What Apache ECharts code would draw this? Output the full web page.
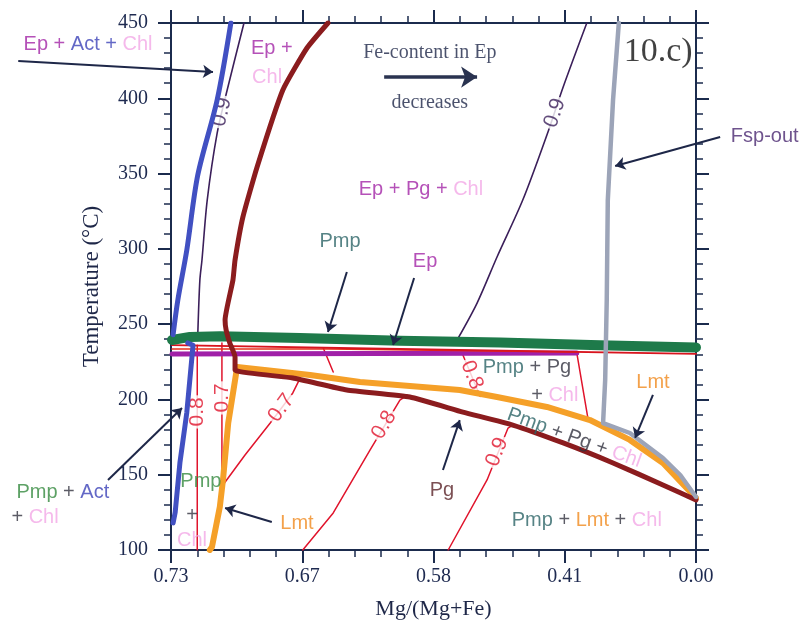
<!DOCTYPE html>
<html><head><meta charset="utf-8">
<script src="https://cdn.jsdelivr.net/npm/echarts@6/dist/echarts.min.js"></script>
<style>html,body{margin:0;padding:0;background:#fff}#c{width:810px;height:631px}</style>
</head><body><div id="c"></div>
<script>
// ---- data (x: position along the Mg/(Mg+Fe) axis in % of span, 0 = 0.73, 100 = 0.00; y: °C)
const xTickLabels = ['0.73', '0.67', '0.58', '0.41', '0.00'];
const actUpper   = [[11.4,450],[8.8,399],[5.1,349],[3.0,299],[1.3,266],[0.4,243]];
const actLower   = [[3.2,237.5],[4.2,236],[3.0,191],[1.7,158],[0.8,125],[0.4,118]];
const ep09Left   = [[13.9,450],[10.7,405.5],[8.8,377],[6.9,332.4],[5.9,292.6],[5.5,279.3],[5.1,242.8]];
const ep09Right  = [[79.2,450],[74.7,407.5],[71.6,375.6],[67.0,332.4],[62.1,294.6],[58.3,264.0],[54.5,239.5]];
const pmpLine    = [[0.2,239.5],[3.6,241.5],[9.3,242],[24.6,240.8],[43.6,239],[62.7,237.8],[81.7,236],[100,234.5]];
const epLine     = [[0.2,230.2],[77.3,230.8]];
const redUpper   = [[0.2,236.1],[43.6,233.5],[100,230.2]];
const redMid     = [[0.2,233.5],[30.0,233.5],[77.3,231.5]];
const pgBoundary = [[29.9,450],[25.9,433.4],[21.3,405.5],[16.4,354.4],[13.7,321.2],[12.2,292.6],[11.8,279.3],[10.3,252.8],[10.5,246.1],[11.2,237.5],[12.2,228.2],[12.2,219.6],
                    [23.2,214.2],[33.5,206.3],[45.5,201.6],[55.6,191.6],[65.1,183.0],[74.7,171.1],[84.2,157.8],[93.7,143.2],[100,133.2]];
const lmtBoundary = [[7.4,100],[7.8,102],[9.3,128.6],[9.9,146.5],[10.9,184.3],[11.6,199.6],[12.6,221.5],
                    [26.5,216.2],[36.0,211.6],[55.0,206.3],[62.1,201.6],[71.6,195.0],[79.8,186.3],[87.4,173.1],[93.7,157.8],[100,134.5]];
const fspOut     = [[85.3,450],[84.2,398.9],[83.2,332.4],[83.0,266.0],[82.7,212.9],[82.3,184.3],[87.4,177.7],[93.7,161.1],[97.0,149.8],[100,135.2]];
const c08Vert    = [[5.0,236],[5.0,100]];
const c07Vert    = [[9.7,237.5],[9.7,143.2]];
const c07Diag    = [[9.9,143.2],[14.1,163.1],[18.9,184.3],[23.2,204.3],[24.6,214.2]];
const c08Diag    = [[25.1,100],[30.9,124.6],[37.9,166.4],[43.6,199.6],[45.0,202.9]];
const c09Low     = [[52.8,100],[60.2,146.5],[64.2,181.0],[65.1,183.0]];
const c08Up      = [[55.6,229.5],[58.9,202.0]];
const cShort     = [[29.0,234.2],[30.9,218.2]];
const cRight     = [[77.3,230.8],[79.4,187.7]];
const arrows = [
  [[-29.1,424.8],[8.0,417.5]],
  [[104.6,374.3],[84.6,355.0]],
  [[33.5,284.6],[29.9,244.8]],
  [[46.3,280.6],[42.3,236.1]],
  [[51.8,153.1],[55.0,186.3]],
  [[19.2,118.6],[10.3,127.9]],
  [[91.8,203.0],[88.4,174.4]],
  [[-12.0,146.5],[2.1,194.3]]
];
const feArrow = [[[40.6,414.1],[58.3,414.1]]];

// ---- annotations (text, anchor in data coords)
const labels = [
  {t:'{ep|Ep + }{act|Act + }{chl|Chl}', at:[-15.8,435.4]},
  {t:'{ep|Ep +}', at:[19.2,433.4]},
  {t:'{chl|Chl}', at:[18.3,413.5]},
  {t:'{ep|Ep + Pg + }{chl|Chl}', at:[47.6,339.1]},
  {t:'{pmp|Pmp}', at:[32.2,305.2]},
  {t:'{ep|Ep}', at:[48.4,291.9]},
  {t:'{pmp|Pmp}{k| + Pg}', at:[67.8,220.9]},
  {t:'{k|+ }{chl|Chl}', at:[73.1,202.9]},
  {t:'{pmp|Pmp}{k| + Pg + }{chl|Chl}', at:[76.8,174.4], rot:-20},
  {t:'{lmt|Lmt}', at:[91.8,211.1]},
  {t:'{pg|Pg}', at:[51.6,139.8]},
  {t:'{pmp|Pmp}{k| + }{lmt|Lmt}{k| + }{chl|Chl}', at:[79.2,119.9]},
  {t:'{lmt|Lmt}', at:[24.0,117.9]},
  {t:'{pmpg|Pmp}', at:[5.7,145.2]},
  {t:'{k|+}', at:[4.0,123.2]},
  {t:'{chl|Chl}', at:[4.0,106.6]},
  {t:'{pmpg|Pmp}{k| + }{act|Act}', at:[-20.6,137.9]},
  {t:'{k|+ }{chl|Chl}', at:[-25.9,121.3]},
  {t:'{fsp|Fsp-out}', at:[113.1,374.3]}
];
const serifLabels = [
  {t:'Fe-content in Ep', at:[49.3,430.1], size:20},
  {t:'decreases', at:[49.3,396.9], size:20},
  {t:'10.c)', at:[92.8,430.7], size:34}
];
const contourLabels = [
  {t:'0.9', at:[9.7,390.9], rot:77, c:'#3b1f5a'},
  {t:'0.9', at:[73.1,390.2], rot:72, c:'#3b1f5a'},
  {t:'0.8', at:[4.95,191.7], rot:90, c:'#e0142c'},
  {t:'0.7', at:[9.7,201], rot:90, c:'#e0142c'},
  {t:'0.7', at:[21.0,194.3], rot:54, c:'#e0142c'},
  {t:'0.8', at:[40.6,183.0], rot:59, c:'#e0142c'},
  {t:'0.9', at:[62.1,165.1], rot:68, c:'#e0142c'},
  {t:'0.8', at:[57.3,216.2], rot:-68, c:'#e0142c'}
];

const AX = '#1b2b4d';
const SANS = 'Liberation Sans, Arial, sans-serif';
const SERIF = 'Liberation Serif, Times New Roman, serif';
const colors = {ep:'#a326a6', act:'#3c42b8', chl:'#f3a8e6', pmp:'#2c6466', pmpg:'#34893e', pg:'#5a2328', lmt:'#f08a1e', k:'#333340', fsp:'#4a2870'};
function rich(size){ const r={}; for(const k in colors) r[k]={color:colors[k], fontSize:size, fontFamily:SANS}; return r; }

function ln(data, color, width, z, extra){
  return Object.assign({type:'line', data, showSymbol:false, symbol:'none', smooth:false, silent:true, animation:false, z,
    lineStyle:{color, width, cap:'round', join:'round'}}, extra||{});
}
function pt(at, label, z){
  return {type:'scatter', data:[at], symbolSize:0, silent:true, animation:false, clip:false, z:z||10,
    label:Object.assign({show:true, position:'inside'}, label)};
}

const series = [
  ln(ep09Left, '#3b1f5a', 1.6, 3, {smooth:0.3}),
  ln(ep09Right, '#3b1f5a', 1.6, 3, {smooth:0.3}),
  ln(c08Vert, '#e0142c', 1.5, 3),
  ln(c07Vert, '#e0142c', 1.5, 3),
  ln(c07Diag, '#e0142c', 1.5, 3),
  ln(c08Diag, '#e0142c', 1.5, 3),
  ln(c09Low, '#e0142c', 1.5, 3),
  ln(c08Up, '#e0142c', 1.5, 3),
  ln(cShort, '#e0142c', 1.5, 3),
  ln(cRight, '#e0142c', 1.5, 3),
  ln(epLine, '#a020a8', 5, 4),
  ln(redMid, '#e8301c', 1.6, 5),
  ln(redUpper, '#d8141e', 1.8, 5),
  ln(pmpLine, '#1e7a4a', 10, 6),
  ln(actUpper, '#4150c2', 5, 7, {smooth:0.3}),
  ln(actLower, '#4150c2', 5, 7),
  ln(lmtBoundary, '#f5a028', 6, 7),
  ln(pgBoundary, '#8b1c1e', 5, 8, {smooth:0.15}),
  ln(fspOut, '#9ca4b8', 4.5, 8),
  {type:'lines', coordinateSystem:'cartesian2d', polyline:false, silent:true, animation:false, clip:false, z:9,
    symbol:['none','arrow'], symbolSize:[0,10], lineStyle:{color:'#1e2748', width:2, opacity:1},
    data: arrows.map(c=>({coords:c}))},
  {type:'lines', coordinateSystem:'cartesian2d', polyline:false, silent:true, animation:false, clip:false, z:9,
    symbol:['none','arrow'], symbolSize:[0,16], lineStyle:{color:'#2a3350', width:3.5, opacity:1},
    data: feArrow.map(c=>({coords:c}))}
];
labels.forEach(l=>series.push(pt(l.at, {formatter:l.t, rich:rich(20), rotate:l.rot||0, fontSize:20, fontFamily:SANS})));
serifLabels.forEach(l=>series.push(pt(l.at, {formatter:l.t, fontSize:l.size, fontFamily:SERIF, color:l.size>30?'#111':'#1e2748'})));
contourLabels.forEach(l=>series.push(pt(l.at, {formatter:l.t, fontSize:21, fontFamily:SANS, color:l.c, rotate:l.rot, backgroundColor:'#fff', padding:[0,2]}, 3.5)));

const tickCommon = {
  axisLine:{show:true, onZero:false, lineStyle:{color:AX, width:2}},
  axisTick:{show:true, inside:false, length:13, lineStyle:{color:AX, width:2}},
  minorTick:{show:true, splitNumber:5, length:7, lineStyle:{color:AX, width:1.5}},
  splitLine:{show:false}, minorSplitLine:{show:false}
};
const option = {
  animation:false,
  backgroundColor:'#fff',
  grid:{left:171, right:114, top:23, bottom:81, containLabel:false},
  xAxis:[
    Object.assign({type:'value', min:0, max:100, interval:25, position:'bottom',
      name:'Mg/(Mg+Fe)', nameLocation:'middle', nameGap:48,
      nameTextStyle:{fontFamily:SERIF, fontSize:22, color:'#1e2748'},
      axisLabel:{formatter:v=>xTickLabels[Math.round(v/25)], margin:17, fontFamily:SERIF, fontSize:20, color:'#1e2a50'}}, tickCommon),
    Object.assign({type:'value', min:0, max:100, interval:25, position:'top', axisLabel:{show:false}}, tickCommon)
  ],
  yAxis:[
    Object.assign({type:'value', min:100, max:450, interval:50, position:'left',
      name:'Temperature (°C)', nameLocation:'middle', nameGap:68, nameRotate:90,
      nameTextStyle:{fontFamily:SERIF, fontSize:23, color:'#1e2748'},
      axisLabel:{margin:23, fontFamily:SERIF, fontSize:20, color:'#1e2a50'}}, tickCommon),
    Object.assign({type:'value', min:100, max:450, interval:50, position:'right', axisLabel:{show:false}}, tickCommon)
  ],
  series
};
const chart = echarts.init(document.getElementById('c'));
chart.setOption(option);
</script></body></html>
